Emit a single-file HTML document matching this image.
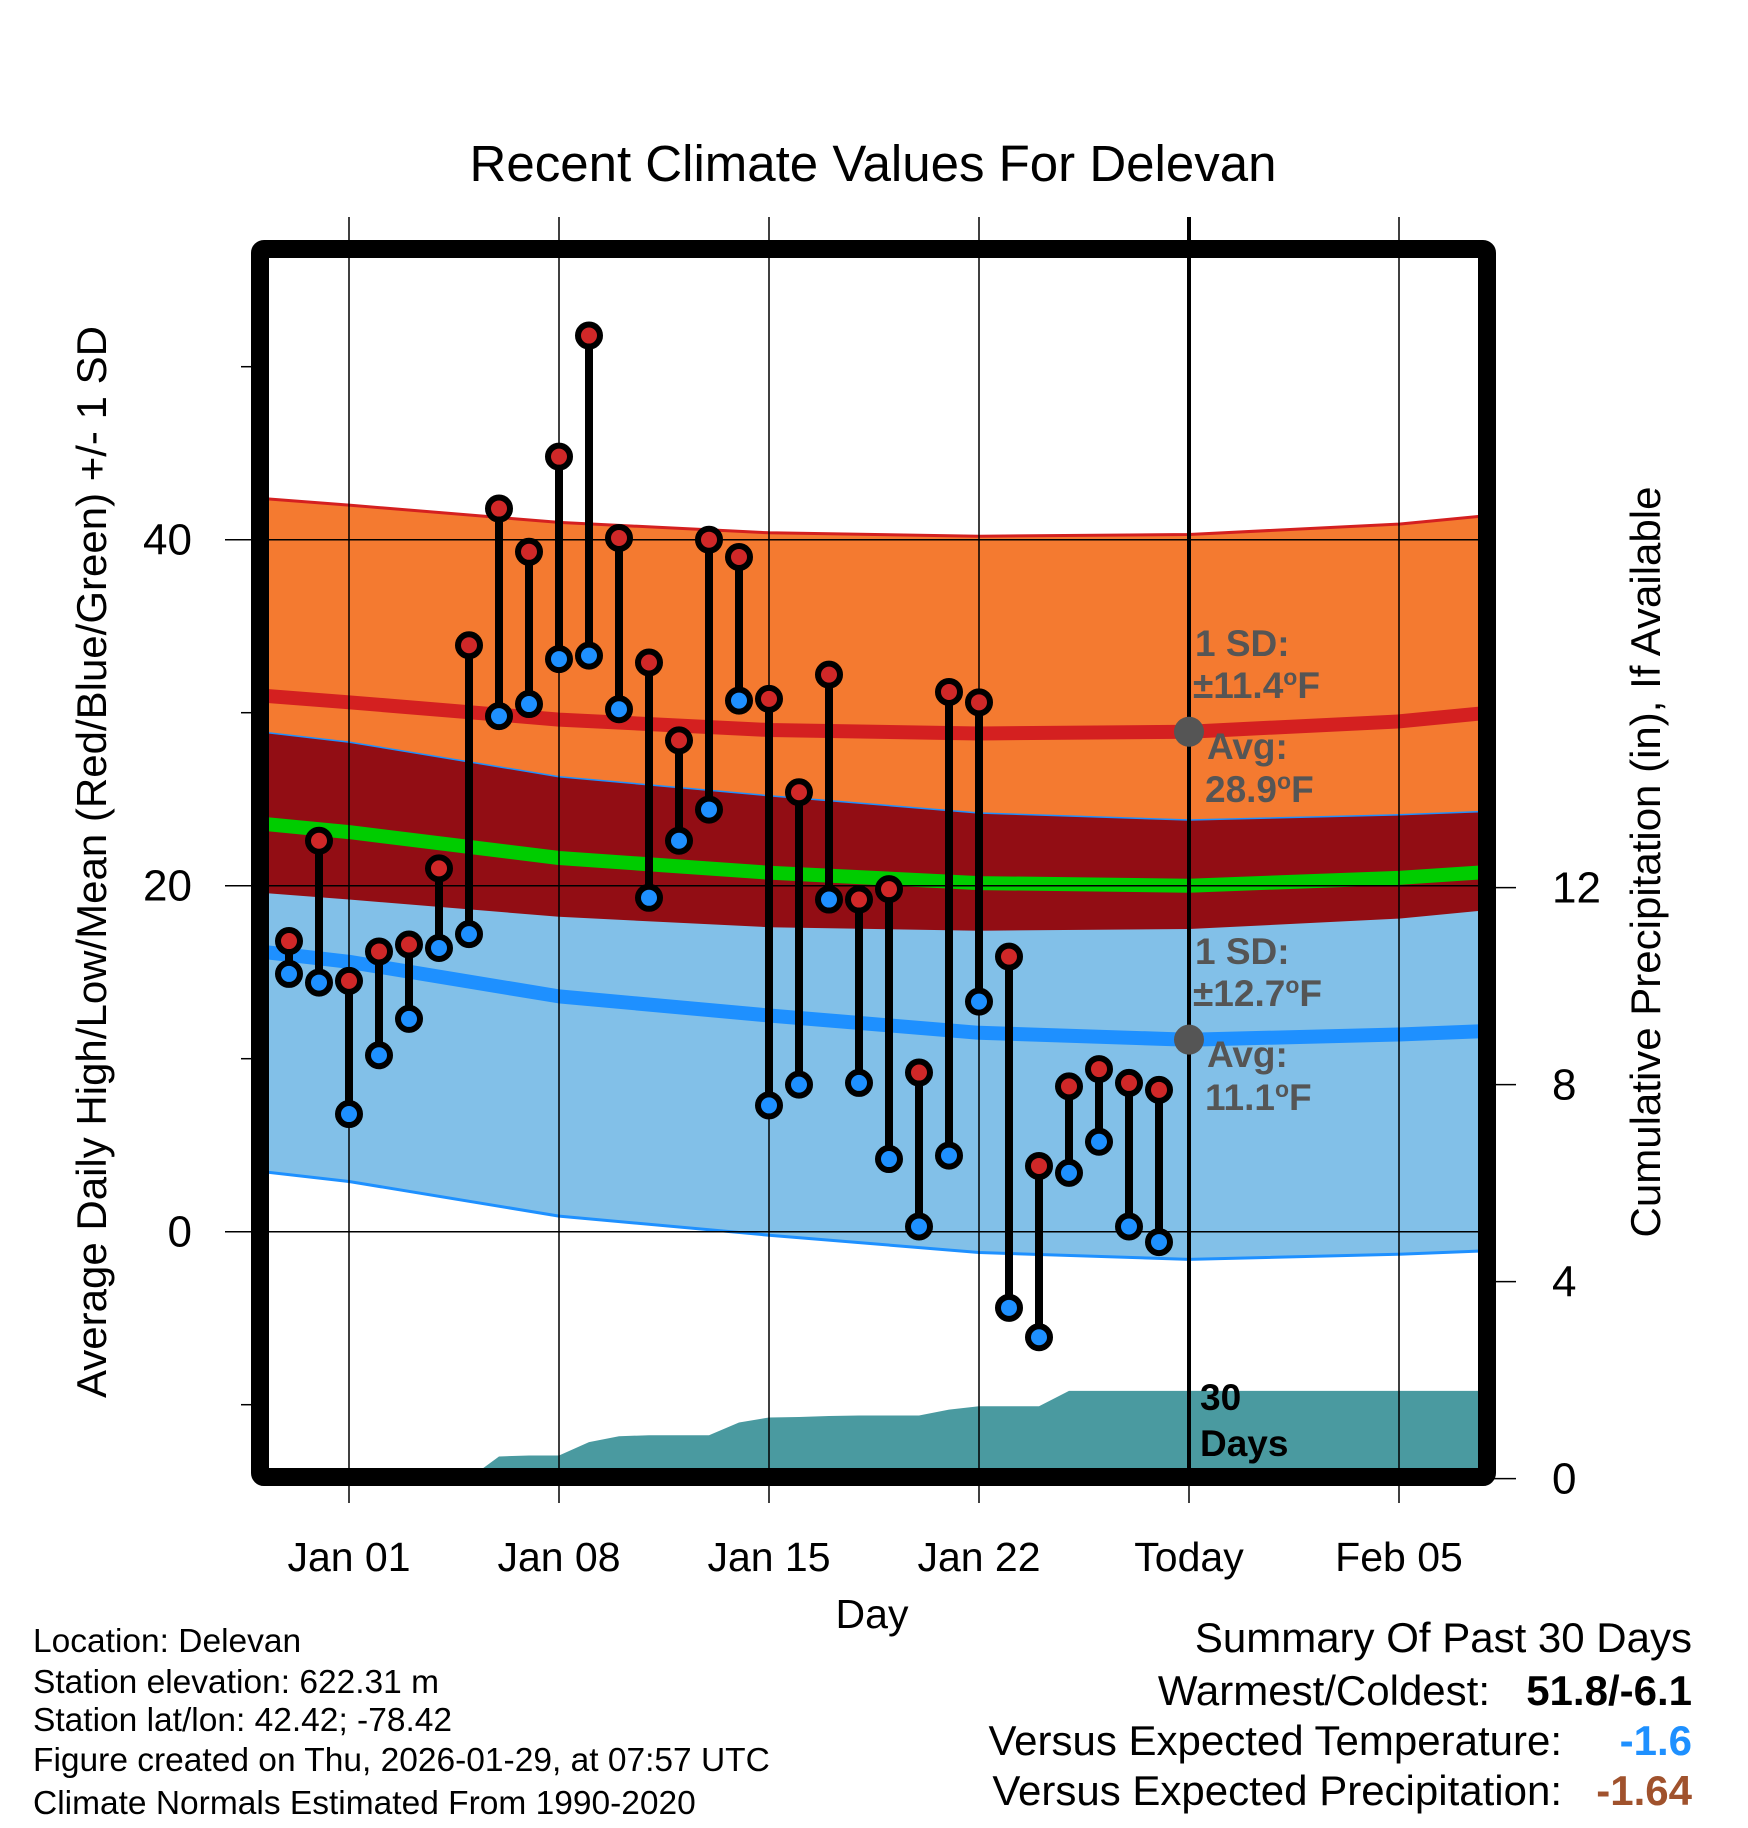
<!DOCTYPE html>
<html><head><meta charset="utf-8"><style>
body{margin:0;background:#fff;}
svg{display:block;font-family:"Liberation Sans",Arial,sans-serif;}
</style></head><body>
<svg id="chart" width="1748" height="1828" viewBox="0 0 1748 1828" xmlns="http://www.w3.org/2000/svg">
<defs><clipPath id="plotclip"><rect x="269" y="258" width="1209" height="1210"/></clipPath></defs>
<text x="873" y="181" font-size="51" text-anchor="middle">Recent Climate Values For Delevan</text>
<g id="plot" clip-path="url(#plotclip)"></g>
<g id="overlay"></g>
<text transform="translate(106,862) rotate(-90)" font-size="42" text-anchor="middle">Average Daily High/Low/Mean (Red/Blue/Green) +/- 1 SD</text>
<text transform="translate(1660,862) rotate(-90)" font-size="42" text-anchor="middle">Cumulative Precipitation (in), If Available</text>
<text x="872" y="1628" font-size="41" text-anchor="middle">Day</text>
<g font-size="33.5">
<text x="33" y="1652">Location: Delevan</text>
<text x="33" y="1693">Station elevation: 622.31 m</text>
<text x="33" y="1731">Station lat/lon: 42.42; -78.42</text>
<text x="33" y="1771">Figure created on Thu, 2026-01-29, at 07:57 UTC</text>
<text x="33" y="1814">Climate Normals Estimated From 1990-2020</text>
</g>
<g font-size="42">
<text x="1692" y="1652" text-anchor="end">Summary Of Past 30 Days</text>
<text x="1490" y="1705" text-anchor="end">Warmest/Coldest:</text>
<text x="1692" y="1705" text-anchor="end" font-weight="bold">51.8/-6.1</text>
<text x="1562" y="1755" text-anchor="end">Versus Expected Temperature:</text>
<text x="1692" y="1755" text-anchor="end" font-weight="bold" fill="#1e90ff">-1.6</text>
<text x="1562" y="1805" text-anchor="end">Versus Expected Precipitation:</text>
<text x="1692" y="1805" text-anchor="end" font-weight="bold" fill="#a0522d">-1.64</text>
</g>
</svg>
<script>
// day offsets relative to Jan 01 (0)
const obsDays=[-2,-1,0,1,2,3,4,5,6,7,8,9,10,11,12,13,14,15,16,17,18,19,20,21,22,23,24,25,26,27];
const highs=[16.8,22.6,14.5,16.2,16.6,21.0,33.9,41.8,39.3,44.8,51.8,40.1,32.9,28.4,40.0,39.0,30.8,25.4,32.2,19.2,19.8,9.2,31.2,30.6,15.9,3.8,8.4,9.4,8.6,8.2];
const lows=[14.9,14.4,6.8,10.2,12.3,16.4,17.2,29.8,30.5,33.1,33.3,30.2,19.3,22.6,24.4,30.7,7.3,8.5,19.2,8.6,4.2,0.3,4.4,13.3,-4.4,-6.1,3.4,5.2,0.3,-0.6];
const precip=[0,0,0,0,0,0,0,0.45,0.47,0.47,0.74,0.86,0.88,0.88,0.88,1.14,1.24,1.25,1.27,1.28,1.28,1.28,1.40,1.47,1.47,1.47,1.78,1.78,1.78,1.78];
const normDays=[-3,0,7,14,21,28,35,38];
const normHigh=[31.0,30.6,29.6,29.0,28.8,28.9,29.5,30.0];
const normLow=[16.2,15.6,13.6,12.5,11.5,11.1,11.4,11.6];
const sdHigh=11.4, sdLow=12.7;
const xTickDays=[0,7,14,21,28,35];
const xTickLabels=["Jan 01","Jan 08","Jan 15","Jan 22","Today","Feb 05"];
const yTicks=[0,20,40];
const yMinor=[-10,10,30,50];
const y2Ticks=[0,4,8,12];
const todayDay=28;

const NS="http://www.w3.org/2000/svg";
const X=d=>349+30*d;
const Y=f=>1231.7-17.3*f;
const YP=p=>1478.6-49.25*p;
const plot=document.getElementById('plot');
const ov=document.getElementById('overlay');
function mk(tag,attrs,parent){const e=document.createElementNS(NS,tag);for(const k in attrs)e.setAttribute(k,attrs[k]);(parent||plot).appendChild(e);return e;}
function pts(days,vals,fy){return days.map((d,i)=>X(d).toFixed(1)+','+fy(vals[i]).toFixed(1));}
const hiU=normHigh.map(v=>v+sdHigh), hiL=normHigh.map(v=>v-sdHigh);
const loU=normLow.map(v=>v+sdLow), loL=normLow.map(v=>v-sdLow);
const rev=a=>a.slice().reverse();
function band(up,lo,fill,name){
  const p=pts(normDays,up,Y).concat(rev(pts(normDays,lo,Y)));
  const e=mk('polygon',{points:p.join(' '),fill:fill});
  
  
}
band(hiU,hiL,'#f47a30','high-sd-band');
band(loU,loL,'#82c0e8','low-sd-band');
band(loU,hiL,'#920d14','overlap-band');
function line(vals,color,w,name){
  const e=mk('polyline',{points:pts(normDays,vals,Y).join(' '),fill:'none',stroke:color,'stroke-width':w,'stroke-linejoin':'round'});
  
  
}
line(hiU,'#d42020',3,'high-upper-sd-line');
line(loL,'#1e90ff',3,'low-lower-sd-line');
line(loU,'#1e90ff',1.5,'low-upper-sd-line');
line(normHigh,'#d42020',14,'normal-high-line');
line(normLow,'#1e90ff',14,'normal-low-line');
line(normHigh.map((v,i)=>(v+normLow[i])/2),'#00cc00',14,'normal-mean-line');
// precip area (clipped)
{const p=[X(-3)+','+YP(0)];obsDays.forEach((d,i)=>p.push(X(d)+','+YP(precip[i])));
p.push(X(40)+','+YP(precip[precip.length-1]));p.push(X(40)+','+YP(0));
const e=mk('polygon',{points:p.join(' '),fill:'#4a9aa0'});

}
// gridlines
yTicks.forEach(t=>{const e=mk('line',{x1:225,x2:1496,y1:Y(t),y2:Y(t),stroke:'#000','stroke-width':1.5},ov);


const l=mk('text',{x:192,y:Y(t)+15,'font-size':44,'text-anchor':'end'},ov);l.textContent=t;

});
yMinor.forEach(t=>{const e=mk('line',{x1:241,x2:253,y1:Y(t),y2:Y(t),stroke:'#000','stroke-width':1.5},ov);

});
y2Ticks.forEach(t=>{const e=mk('line',{x1:1490,x2:1516,y1:YP(t),y2:YP(t),stroke:'#000','stroke-width':1.5},ov);


const l=mk('text',{x:1552,y:YP(t)+15,'font-size':44},ov);l.textContent=t;

});
xTickDays.forEach((d,i)=>{const e=mk('line',{x1:X(d),x2:X(d),y1:217,y2:1503,stroke:'#000','stroke-width':1.5},ov);


const l=mk('text',{x:X(d),y:1571,'font-size':41,'text-anchor':'middle'},ov);l.textContent=xTickLabels[i];

});
// today line
{const e=mk('line',{x1:X(todayDay),x2:X(todayDay),y1:217,y2:1468,stroke:'#000','stroke-width':4},ov);

}
// observations
obsDays.forEach((d,i)=>{
  const s=mk('line',{x1:X(d),x2:X(d),y1:Y(highs[i]),y2:Y(lows[i]),stroke:'#000','stroke-width':8},ov);
  
  
});
obsDays.forEach((d,i)=>{
  const h=mk('circle',{cx:X(d),cy:Y(highs[i]),r:11,fill:'#d02828',stroke:'#000','stroke-width':6},ov);
  
  
  const l=mk('circle',{cx:X(d),cy:Y(lows[i]),r:11,fill:'#1e90ff',stroke:'#000','stroke-width':6},ov);
  
  
});
// today normal markers
const ti=normDays.indexOf(todayDay);
[[normHigh[ti],'today-high-normal-dot'],[normLow[ti],'today-low-normal-dot']].forEach(a=>{
  const c=mk('circle',{cx:X(todayDay),cy:Y(a[0]),r:15,fill:'#555'},ov);
  
  
});
function ann(txt,x,y,name,fill){const t=mk('text',{x:x,y:y,'font-size':37,'font-weight':'bold',fill:fill||'#555'},ov);t.innerHTML=txt;

}
ann('1 SD:',1195,656,'high-sd-label');
ann('±11.4<tspan baseline-shift="super" font-size="23">o</tspan>F',1193,698,'high-sd-value');
ann('Avg:',1207,759,'high-avg-label');
ann(normHigh[ti].toFixed(1)+'<tspan baseline-shift="super" font-size="23">o</tspan>F',1205,802,'high-avg-value');
ann('1 SD:',1195,964,'low-sd-label');
ann('±12.7<tspan baseline-shift="super" font-size="23">o</tspan>F',1193,1006,'low-sd-value');
ann('Avg:',1207,1067,'low-avg-label');
ann(normLow[ti].toFixed(1)+'<tspan baseline-shift="super" font-size="23">o</tspan>F',1205,1110,'low-avg-value');
ann('30',1200,1410,'precip-days-label','#000');
ann('Days',1200,1456,'precip-days-unit','#000');
// frame
{const f=mk('rect',{x:260,y:249,width:1227,height:1228,fill:'none',stroke:'#000','stroke-width':18,rx:4},ov);

}
</script>
</body></html>
